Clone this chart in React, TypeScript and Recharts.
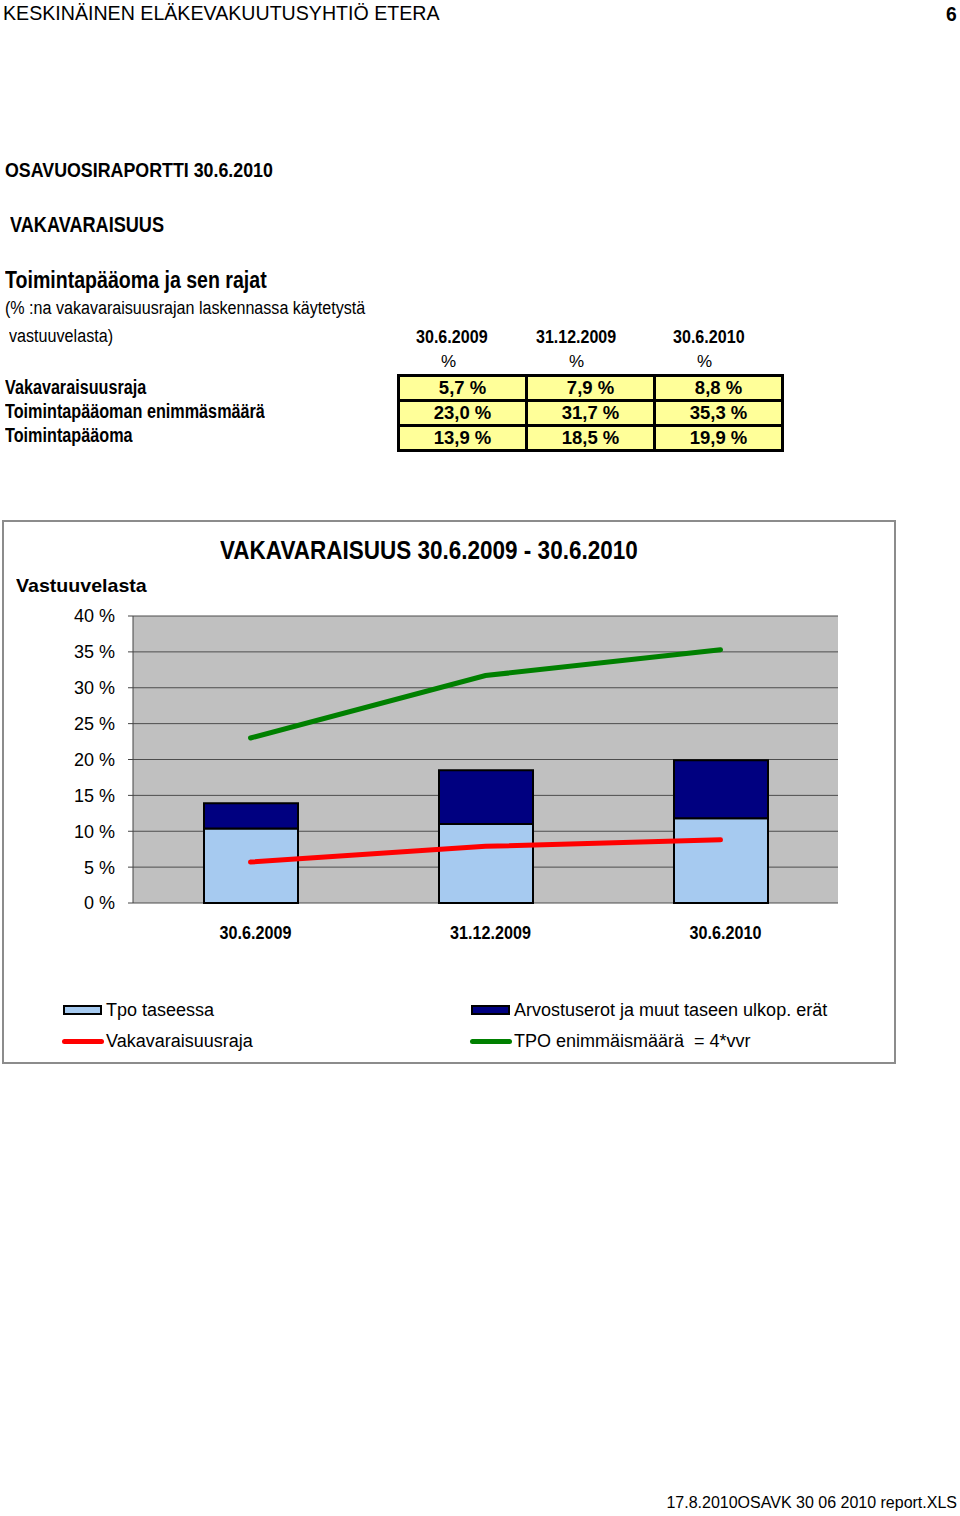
import React, { useLayoutEffect, useRef, useState } from 'react';
import { ComposedChart, Bar, Line, XAxis, YAxis, CartesianGrid } from 'recharts';

// chart data (% of vastuuvelka)
const periods = ['30.6.2009', '31.12.2009', '30.6.2010'];
const tpoTaseessa = [10.4, 11.0, 11.8];
const arvostuserot = [3.5, 7.5, 8.1];
const vakavaraisuusraja = [5.7, 7.9, 8.8];
const tpoEnimmaismaara = [23.0, 31.7, 35.3];
const yTicks = [0, 5, 10, 15, 20, 25, 30, 35, 40];
const edgeTicks = [0, 1, 2, 3];

// table
const rowLabels = ['Vakavaraisuusraja', 'Toimintapääoman enimmäsmäärä', 'Toimintapääoma'];
const rowLabelWidths = [141, 260, 128];
const toimintapaaoma = [13.9, 18.5, 19.9];
const tableValues = [vakavaraisuusraja, [23.0, 31.7, 35.3], toimintapaaoma];

// no narrow font installed: Liberation Sans squeezed to the measured width instead
const SANS = '"Liberation Sans", Arial, sans-serif';

const pct = (v: number) => v.toFixed(1).replace('.', ',') + ' %';

const data = periods.map((p, i) => ({
  period: p,
  tpo: tpoTaseessa[i],
  arvo: arvostuserot[i],
  vvr: vakavaraisuusraja[i],
  tpoMax: tpoEnimmaismaara[i],
}));

type TProps = {
  x: number;
  y: number;
  size: number;
  bold?: boolean;
  right?: boolean;
  w?: number;
  children: React.ReactNode;
};

function T({ x, y, size, bold, right, w, children }: TProps) {
  const ref = useRef<HTMLDivElement>(null);
  const [sx, setSx] = useState(1);
  useLayoutEffect(() => {
    if (w && ref.current) setSx(w / ref.current.offsetWidth);
  }, [w]);
  const style: React.CSSProperties = {
    position: 'absolute',
    top: y - size / 2,
    fontSize: size,
    lineHeight: 1,
    fontWeight: bold ? 700 : 400,
    fontFamily: SANS,
    whiteSpace: 'pre',
    color: '#000',
    transform: `scaleX(${sx})`,
    transformOrigin: right ? 'right center' : 'left center',
  };
  if (right) style.right = 960 - x;
  else style.left = x;
  return (
    <div ref={ref} style={style}>
      {children}
    </div>
  );
}

function PeriodTick(props: any) {
  const { x, y, payload } = props;
  return (
    <text
      transform={`translate(${x + 5},${y}) scale(0.85,1)`}
      textAnchor="middle"
      dy="0.71em"
      fill="#000"
      fontSize={19}
      fontWeight={700}
      fontFamily={SANS}
    >
      {payload.value}
    </text>
  );
}

export default function App() {
  return (
    <div style={{ position: 'absolute', left: 0, top: 0, width: 960, height: 1516, background: '#fff' }}>
      <T x={3} y={12} size={21} w={437}>KESKINÄINEN ELÄKEVAKUUTUSYHTIÖ ETERA</T>
      <T x={957} y={13} size={21} bold right w={11}>6</T>

      <T x={5} y={169} size={21} bold w={268}>OSAVUOSIRAPORTTI 30.6.2010</T>
      <T x={10} y={225} size={22} bold w={154}>VAKAVARAISUUS</T>
      <T x={5} y={280} size={23} bold w={262}>Toimintapääoma ja sen rajat</T>
      <T x={5} y={308} size={18} w={360}>(% :na vakavaraisuusrajan laskennassa käytetystä</T>
      <T x={9} y={336} size={18} w={104}>vastuuvelasta)</T>

      <T x={416} y={336} size={19} bold w={72}>30.6.2009</T>
      <T x={536} y={336} size={19} bold w={80}>31.12.2009</T>
      <T x={673} y={336} size={19} bold w={72}>30.6.2010</T>
      <T x={441} y={361} size={17}>%</T>
      <T x={569} y={361} size={17}>%</T>
      <T x={697} y={361} size={17}>%</T>

      {rowLabels.map((l, r) => (
        <T key={l} x={5} y={388 + r * 24} size={19.5} bold w={rowLabelWidths[r]}>{l}</T>
      ))}
      {tableValues.map((row, r) =>
        row.map((v, c) => (
          <div
            key={`${r}-${c}`}
            style={{
              position: 'absolute',
              left: 397 + c * 128,
              top: 374 + r * 25,
              width: 131,
              height: 28,
              boxSizing: 'border-box',
              border: '3px solid #000',
              background: '#FFFF99',
              fontFamily: SANS,
              fontWeight: 700,
              fontSize: 18.5,
              lineHeight: '22px',
              textAlign: 'center',
            }}
          >
            {pct(v)}
          </div>
        ))
      )}

      {/* chart box */}
      <div
        style={{
          position: 'absolute',
          left: 2,
          top: 520,
          width: 894,
          height: 544,
          boxSizing: 'border-box',
          border: '2px solid #8c8c8c',
        }}
      />
      <T x={220} y={550} size={26} bold w={418}>VAKAVARAISUUS 30.6.2009 - 30.6.2010</T>
      <T x={16} y={585} size={19} bold w={131}>Vastuuvelasta</T>

      <div style={{ position: 'absolute', left: 0, top: 600 }}>
        <ComposedChart
          width={900}
          height={360}
          data={data}
          margin={{ top: 16, right: 62, bottom: 17, left: 33 }}
        >
          <CartesianGrid vertical={false} fill="#C0C0C0" fillOpacity={1} stroke="#4d4d4d" />
          <XAxis
            xAxisId="edges"
            type="number"
            domain={[0, 3]}
            ticks={edgeTicks}
            height={0}
            tickSize={5}
            tickFormatter={() => ''}
            stroke="#444"
          />
          <XAxis
            dataKey="period"
            height={40}
            axisLine={false}
            tickLine={false}
            tickSize={0}
            tickMargin={22}
            tick={<PeriodTick />}
          />
          <YAxis
            width={100}
            domain={[0, 40]}
            ticks={yTicks}
            tickFormatter={(v: number) => `${v} %`}
            tickSize={5}
            tickMargin={13}
            stroke="#444"
            tick={{ fill: '#000', fontSize: 18, fontFamily: SANS }}
          />
          <Bar dataKey="tpo" stackId="a" fill="#A6CAF0" stroke="#000" strokeWidth={2} barSize={94} isAnimationActive={false} />
          <Bar dataKey="arvo" stackId="a" fill="#000080" stroke="#000" strokeWidth={2} barSize={94} isAnimationActive={false} />
          <Line dataKey="vvr" type="linear" stroke="#FF0000" strokeWidth={5} strokeLinecap="round" dot={false} isAnimationActive={false} />
          <Line dataKey="tpoMax" type="linear" stroke="#008000" strokeWidth={5} strokeLinecap="round" dot={false} isAnimationActive={false} />
        </ComposedChart>
      </div>

      {/* legend */}
      <div style={{ position: 'absolute', left: 63, top: 1005, width: 39, height: 10, boxSizing: 'border-box', border: '2px solid #000', background: '#A6CAF0' }} />
      <T x={106} y={1010} size={18}>Tpo taseessa</T>
      <div style={{ position: 'absolute', left: 471, top: 1005, width: 39, height: 10, boxSizing: 'border-box', border: '2px solid #000', background: '#000080' }} />
      <T x={514} y={1010} size={18}>Arvostuserot ja muut taseen ulkop. erät</T>
      <div style={{ position: 'absolute', left: 62, top: 1039, width: 42, height: 5, borderRadius: 3, background: '#FF0000' }} />
      <T x={106} y={1041} size={18}>Vakavaraisuusraja</T>
      <div style={{ position: 'absolute', left: 470, top: 1039, width: 42, height: 5, borderRadius: 3, background: '#008000' }} />
      <T x={514} y={1041} size={18}>TPO enimmäismäärä  = 4*vvr</T>

      <T x={957} y={1503} size={16} right>17.8.2010OSAVK 30 06 2010 report.XLS</T>
    </div>
  );
}
